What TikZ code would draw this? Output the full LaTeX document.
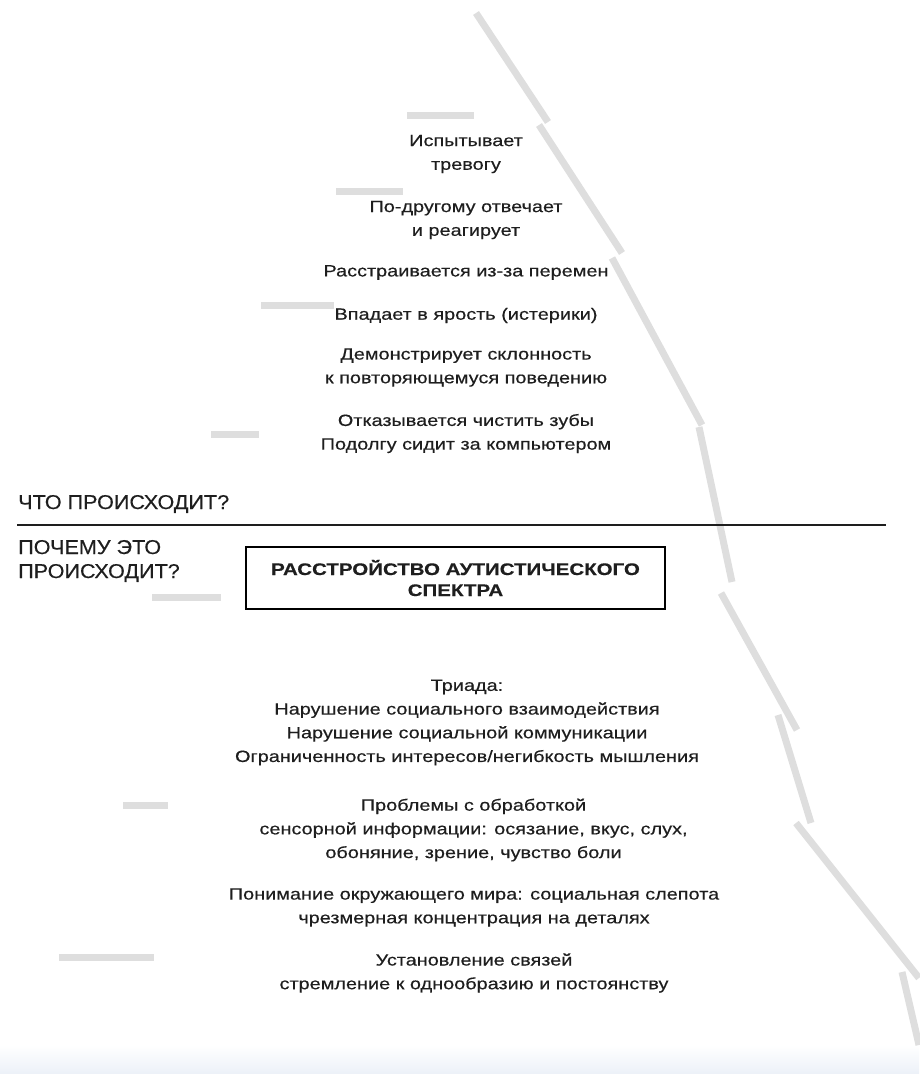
\documentclass[tikz,border=0pt]{standalone}
\usepackage{fontspec}
\setmainfont{Liberation Sans}[FakeStretch=1.22, FakeBold=0.4]
\newfontfamily\capsfont{Liberation Sans}[FakeStretch=1.08, FakeBold=0.4]
\usetikzlibrary{positioning}
\definecolor{icegrey}{HTML}{DEDEDE}
\definecolor{inkgrey}{HTML}{1E1E1E}
\definecolor{seablue}{HTML}{ECF1F8}

\begin{document}
\begin{tikzpicture}[x=1pt, y=-1pt,
  item/.style = {align=center, text=inkgrey, inner sep=0pt, font=\fontsize{16.3}{23.7}\selectfont},
  head/.style = {anchor=base west, inner sep=0pt, text=inkgrey, font=\capsfont\fontsize{20}{24}\selectfont},
  ice/.style = {draw=icegrey, line width=7pt},
  main/.style = {draw=black, line width=1.6pt, align=center, minimum width=419pt, minimum height=62pt, text=inkgrey, font=\bfseries\fontsize{16.8}{21}\selectfont}]
\useasboundingbox (0,0) rectangle (919,1074);

% sea at the bottom
\shade[top color=white, bottom color=seablue] (0,1045) rectangle (919,1074);

% iceberg edge
\draw[ice] (476,13) -- (548,122);
\draw[ice] (539,125) -- (622,253);
\draw[ice] (612,258) -- (702,425);
\draw[ice] (699,427) -- (732,582);
\draw[ice] (721,593) -- (797,730);
\draw[ice] (778,715) -- (811,823);
\draw[ice] (796,823) -- (919,978);
\draw[ice] (902,972) -- (919,1045);

% ticks
\draw[ice] (407,115) -- (474,115);
\draw[ice] (336,191) -- (403,191);
\draw[ice] (261,305) -- (334,305);
\draw[ice] (211,434) -- (259,434);
\draw[ice] (152,597) -- (221,597);
\draw[ice] (123,805) -- (168,805);
\draw[ice] (59,957) -- (154,957);

% what happens
\node[item] (1) at (466,154) {Испытывает\\тревогу};
\node[item] (2) at (466,220) {По-другому отвечает\\и реагирует};
\node[item] (3) at (466,272.5) {Расстраивается из-за перемен};
\node[item] (4) at (466,315.5) {Впадает в ярость (истерики)};
\node[item] (5) at (466,367.5) {Демонстрирует склонность\\к повторяющемуся поведению};
\node[item] (6) at (466,433.5) {Отказывается чистить зубы\\Подолгу сидит за компьютером};

% the waterline
\node[head] (7) at (18,509) {ЧТО ПРОИСХОДИТ?};
\coordinate (l) at (17,525);
\coordinate (r) at (886,525);
\draw[draw=inkgrey, line width=2pt] (l) -- (r);
\node[head] (8) at (18,554) {ПОЧЕМУ ЭТО};
\node[head] (9) at (18,578) {ПРОИСХОДИТ?};

\node[main] (10) at (455.5,578) {РАССТРОЙСТВО АУТИСТИЧЕСКОГО\\СПЕКТРА};

% why it happens
\node[item] (11) at (467,722.5) {Триада:\\Нарушение социального взаимодействия\\Нарушение социальной коммуникации\\Ограниченность интересов/негибкость мышления};
\node[item] (12) at (473.5,830) {Проблемы с обработкой\\сенсорной информации: осязание, вкус, слух,\\обоняние, зрение, чувство боли};
\node[item] (13) at (474,907.5) {Понимание окружающего мира: социальная слепота\\чрезмерная концентрация на деталях};
\node[item] (14) at (474,973) {Установление связей\\стремление к однообразию и постоянству};

\end{tikzpicture}
\end{document}
